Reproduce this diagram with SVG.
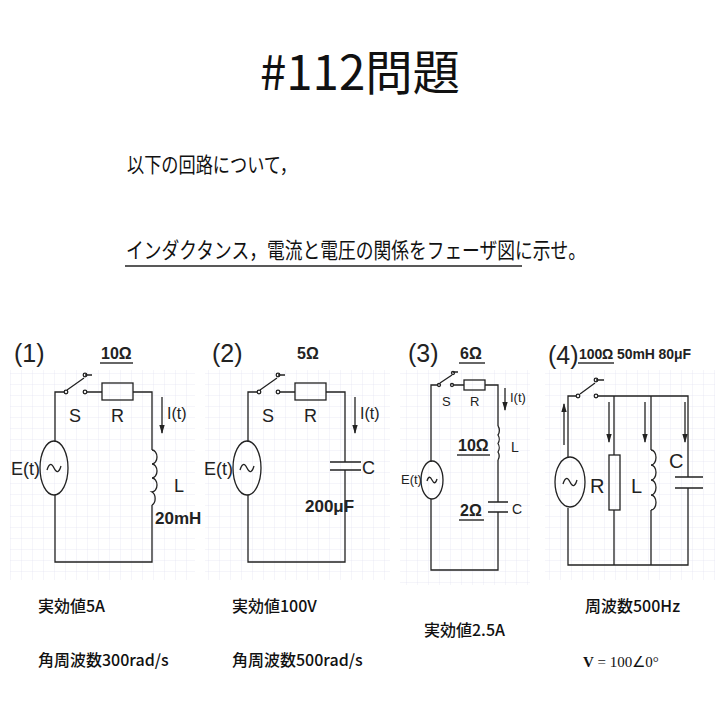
<svg xmlns="http://www.w3.org/2000/svg" width="721" height="721" viewBox="0 0 721 721">
<style>
.t{font-family:"Noto Sans CJK JP","Liberation Sans",sans-serif;fill:#111}
.b{font-weight:500}
.w{fill:none;stroke:#222;stroke-width:1.3}
.g{fill:none;stroke:#dde;stroke-width:0.6}
.s{font-family:"Liberation Sans",sans-serif;fill:#222}
.ul{stroke:#666;stroke-width:2}
</style>
<defs>
<pattern id="grid" width="11" height="11" patternUnits="userSpaceOnUse"><path d="M11 0V11H0" class="g"/></pattern>
<marker id="ah" viewBox="0 0 10 10" refX="9" refY="5" markerWidth="7" markerHeight="7" orient="auto"><path d="M0,2L10,5L0,8z" fill="#222"/></marker>
</defs>
<rect width="721" height="721" fill="#fff"/>
<rect x="10" y="370" width="185" height="210" fill="url(#grid)"/>
<rect x="205" y="370" width="185" height="210" fill="url(#grid)"/>
<rect x="400" y="370" width="130" height="215" fill="url(#grid)"/>
<rect x="545" y="370" width="170" height="210" fill="url(#grid)"/>

<g id="title">
<text class="t" x="360" y="90" font-size="48" text-anchor="middle" textLength="200" lengthAdjust="spacingAndGlyphs">#112問題</text>
<text class="t" x="127" y="172" font-size="21" textLength="170" lengthAdjust="spacingAndGlyphs">以下の回路について，</text>
<text class="t" x="126" y="258" font-size="22" textLength="460" lengthAdjust="spacingAndGlyphs">インダクタンス，電流と電圧の関係をフェーザ図に示せ。</text>
<line x1="125" y1="266" x2="522" y2="266" stroke="#222" stroke-width="1.5"/>
</g>

<g id="circuit1">
<text class="s" x="14" y="362" font-size="25">(1)</text>
<text class="s" x="101" y="359" font-size="16" font-weight="bold">10Ω</text>
<line class="ul" x1="100" y1="363" x2="133" y2="363"/>
<path class="w" d="M55,442V392H64M55,495V562H152V505M152,450V392H133M102,392H87M67,390L84,378M85,375H92"/>
<circle class="w" cx="66" cy="392" r="1.8"/><circle class="w" cx="85" cy="392" r="1.8"/><circle class="w" cx="85" cy="375" r="1.8"/>
<rect class="w" x="102" y="383" width="31" height="17"/>
<ellipse class="w" cx="54" cy="468" rx="14" ry="27"/>
<path class="w" d="M47,470q3,-10 7,-2t7,-2"/>
<path class="w" d="M152,450a5,7 0 0 1 0,14a5,7 0 0 1 0,14a5,7 0 0 1 0,14a5,7 0 0 1 0,13"/>
<line class="w" x1="162" y1="397" x2="162" y2="433" marker-end="url(#ah)"/>
<text class="s" x="167" y="419" font-size="16">I(t)</text>
<text class="s" x="69" y="422" font-size="18">S</text>
<text class="s" x="111" y="422" font-size="18">R</text>
<text class="s" x="11" y="475" font-size="18">E(t)</text>
<text class="s" x="174" y="492" font-size="18">L</text>
<text class="s" x="155" y="524" font-size="17" font-weight="bold">20mH</text>
<text class="t b" x="38" y="612" font-size="16">実効値5A</text>
<text class="t b" x="38" y="666" font-size="16">角周波数300rad/s</text>
</g>

<g id="circuit2">
<text class="s" x="212" y="362" font-size="25">(2)</text>
<text class="s" x="297" y="359" font-size="16" font-weight="bold">5Ω</text>
<path class="w" d="M248,442V392H257M248,495V562H345V470M345,462V392H326M295,392H280M260,390L277,378M278,375H285M330,462H361M330,470H361"/>
<circle class="w" cx="259" cy="392" r="1.8"/><circle class="w" cx="278" cy="392" r="1.8"/><circle class="w" cx="278" cy="375" r="1.8"/>
<rect class="w" x="295" y="383" width="31" height="17"/>
<ellipse class="w" cx="247" cy="468" rx="14" ry="27"/>
<path class="w" d="M240,470q3,-10 7,-2t7,-2"/>
<line class="w" x1="355" y1="397" x2="355" y2="433" marker-end="url(#ah)"/>
<text class="s" x="360" y="419" font-size="16">I(t)</text>
<text class="s" x="262" y="422" font-size="18">S</text>
<text class="s" x="304" y="422" font-size="18">R</text>
<text class="s" x="204" y="475" font-size="18">E(t)</text>
<text class="s" x="362" y="474" font-size="18">C</text>
<text class="s" x="305" y="512" font-size="17" font-weight="bold">200μF</text>
<text class="t b" x="232" y="612" font-size="16">実効値100V</text>
<text class="t b" x="232" y="666" font-size="16">角周波数500rad/s</text>
</g>

<g id="circuit3">
<text class="s" x="408" y="362" font-size="25">(3)</text>
<text class="s" x="460" y="359" font-size="16" font-weight="bold">6Ω</text>
<line class="ul" x1="459" y1="363" x2="485" y2="363"/>
<path class="w" d="M431,462V385H438M431,499V570H498V512M498,502V460M498,426V385H485M464,385H453M440,383L452,375M453,372H458"/>
<circle class="w" cx="439" cy="385" r="1.5"/><circle class="w" cx="452" cy="385" r="1.5"/><circle class="w" cx="453" cy="373" r="1.5"/>
<rect class="w" x="464" y="380" width="21" height="10"/>
<ellipse class="w" cx="432" cy="480" rx="11" ry="19"/>
<path class="w" d="M427,481q2,-7 5,-1t5,-1"/>
<path class="w" d="M498,426a4,6 0 0 1 0,9a4,6 0 0 1 0,8.5a4,6 0 0 1 0,8.5a4,6 0 0 1 0,8"/>
<path class="w" d="M488,502H508M488,512H508"/>
<line class="w" x1="505" y1="388" x2="505" y2="410" marker-end="url(#ah)"/>
<text class="s" x="510" y="402" font-size="13">I(t)</text>
<text class="s" x="442" y="406" font-size="13">S</text>
<text class="s" x="470" y="406" font-size="13">R</text>
<text class="s" x="401" y="484" font-size="13">E(t)</text>
<text class="s" x="511" y="452" font-size="14">L</text>
<text class="s" x="512" y="514" font-size="14">C</text>
<text class="s" x="458" y="451" font-size="16" font-weight="bold">10Ω</text>
<line class="ul" x1="457" y1="455" x2="490" y2="455"/>
<text class="s" x="460" y="516" font-size="16" font-weight="bold">2Ω</text>
<line class="ul" x1="459" y1="520" x2="484" y2="520"/>
<text class="t b" x="424" y="636" font-size="16">実効値2.5A</text>
</g>

<g id="circuit4">
<text class="s" x="548" y="364" font-size="25">(4)</text>
<text class="s" x="579" y="359" font-size="14" font-weight="bold" textLength="112">100Ω 50mH 80μF</text>
<line class="ul" x1="578" y1="363" x2="614" y2="363"/>
<path class="w" d="M568,457V396H576M568,508V565H688V488M688,477V396H598M614,396V455M614,510V565M651,396V450M651,510V565M580,394L595,383M596,380H604M675,477H703M675,488H703"/>
<circle class="w" cx="578" cy="396" r="1.8"/><circle class="w" cx="596" cy="396" r="1.8"/><circle class="w" cx="596" cy="380" r="1.8"/>
<rect class="w" x="609" y="455" width="11" height="55"/>
<ellipse class="w" cx="570" cy="482" rx="15" ry="25"/>
<path class="w" d="M563,484q3,-10 7,-2t7,-2"/>
<path class="w" d="M651,450a5,7.5 0 0 1 0,15a5,7.5 0 0 1 0,15a5,7.5 0 0 1 0,15a5,7.5 0 0 1 0,15"/>
<line class="w" x1="564" y1="445" x2="564" y2="404" marker-end="url(#ah)"/>
<line class="w" x1="609" y1="402" x2="609" y2="442" marker-end="url(#ah)"/>
<line class="w" x1="645" y1="402" x2="645" y2="442" marker-end="url(#ah)"/>
<line class="w" x1="685" y1="402" x2="685" y2="442" marker-end="url(#ah)"/>
<text class="s" x="590" y="493" font-size="20">R</text>
<text class="s" x="631" y="493" font-size="20">L</text>
<text class="s" x="669" y="468" font-size="20">C</text>
<text class="t b" x="585" y="612" font-size="16">周波数500Hz</text>
<text x="583" y="667" font-size="15" font-family="Liberation Serif,serif" fill="#111"><tspan font-weight="bold">V</tspan> = 100∠0°</text>
</g>
</svg>
